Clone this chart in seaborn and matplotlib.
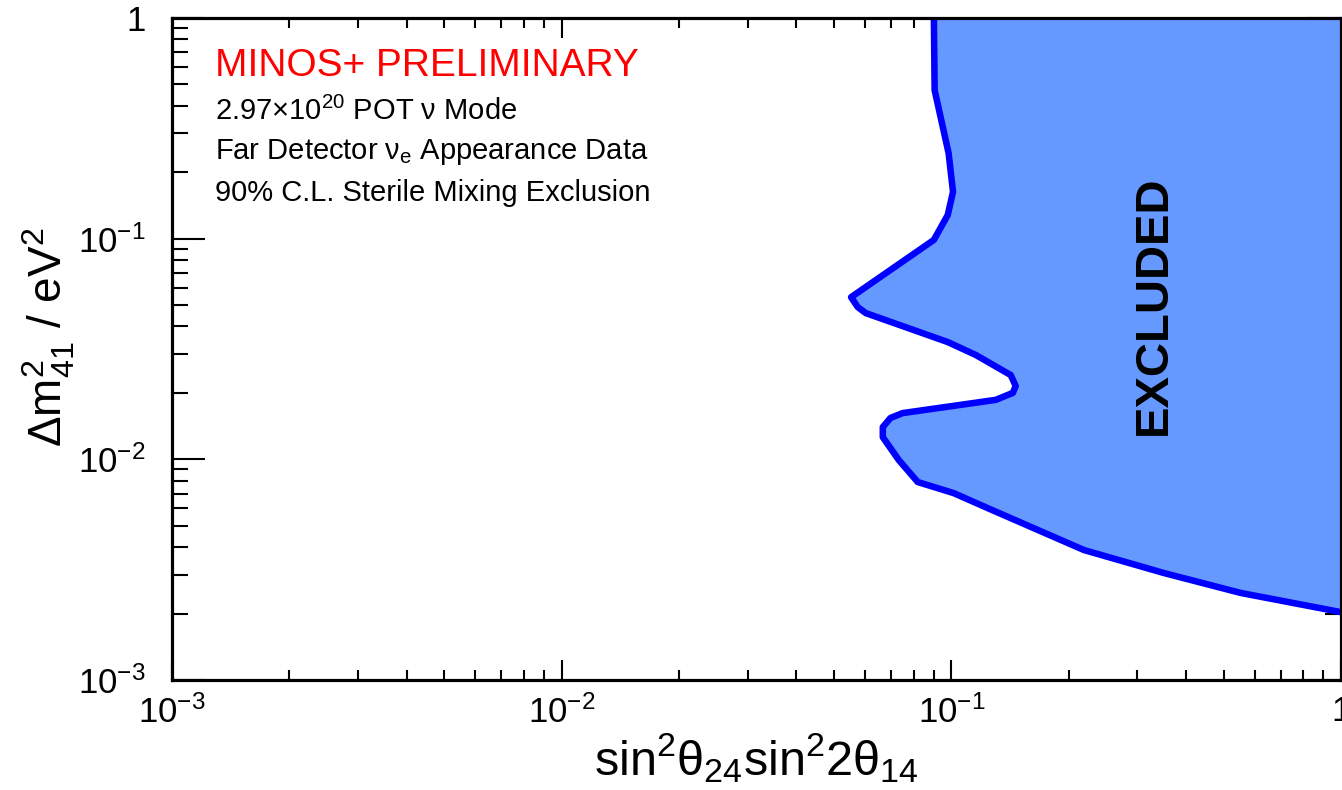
import numpy as np
import pandas as pd
import matplotlib
matplotlib.use("Agg")
import matplotlib.pyplot as plt
from matplotlib.ticker import FixedLocator, FixedFormatter, LogLocator, NullFormatter
import seaborn as sns

# 90% C.L. exclusion contour: sin^2(theta24) sin^2(2 theta14) vs Delta m^2_41 [eV^2]
sin2_mix = [0.0902, 0.0906, 0.0984, 0.101, 0.0979, 0.0902, 0.0553, 0.0575, 0.0603,
            0.0979, 0.1156, 0.142, 0.1463, 0.1438, 0.130, 0.0750, 0.0698, 0.0667,
            0.0667, 0.0733, 0.0820, 0.1014, 0.124, 0.219, 0.352, 0.553, 1.0]
dm2_41 = [1.0, 0.471, 0.244, 0.163, 0.128, 0.0987, 0.0543, 0.0490, 0.0460,
          0.0340, 0.0297, 0.0241, 0.0215, 0.0200, 0.0186, 0.0162, 0.0154, 0.0140,
          0.0126, 0.00993, 0.00789, 0.00703, 0.00601, 0.00388, 0.00305, 0.00248, 0.00203]

x_range = [1e-3, 1.0]
y_range = [1e-3, 1.0]
decade_ticks = [1e-3, 1e-2, 1e-1, 1.0]
decade_labels = [r"$10^{-3}$", r"$10^{-2}$", r"$10^{-1}$", r"$1$"]

info_lines = [
    r"$2.97{\times}10^{20}$ POT $\nu$ Mode",
    r"Far Detector $\nu_{\mathrm{e}}$ Appearance Data",
    r"90% C.L. Sterile Mixing Exclusion",
]

sns.set_theme(style="ticks")
plt.rcParams["font.family"] = ["Liberation Sans", "DejaVu Sans"]
plt.rcParams["mathtext.fontset"] = "custom"
plt.rcParams["mathtext.rm"] = "Liberation Sans"
plt.rcParams["mathtext.it"] = "Liberation Sans"
plt.rcParams["mathtext.bf"] = "Liberation Sans:bold"
plt.rcParams["mathtext.sf"] = "Liberation Sans"
plt.rcParams["text.color"] = "black"
plt.rcParams["axes.labelcolor"] = "black"

W, H = 1342, 790
fig = plt.figure(figsize=(W / 100, H / 100), dpi=100, facecolor="white")
ax = fig.add_axes([172 / W, 1 - 680 / H, (1341 - 172) / W, (680 - 18) / H])
ax.set_facecolor("white")
ax.set_xscale("log")
ax.set_yscale("log")

df = pd.DataFrame({"sin2": sin2_mix, "dm2": dm2_41})

# excluded region: everything to the right of the contour
ax.fill(np.r_[sin2_mix, x_range[1]], np.r_[dm2_41, y_range[1]],
        color="#6699ff", lw=0, zorder=1)
sns.lineplot(data=df, x="sin2", y="dm2", sort=False, estimator=None,
             color="#0000ff", lw=4.7, ax=ax, zorder=2)

ax.set_xlim(*x_range)
ax.set_ylim(*y_range)

for axis in (ax.xaxis, ax.yaxis):
    axis.set_major_locator(FixedLocator(decade_ticks))
    axis.set_major_formatter(FixedFormatter(decade_labels))
    axis.set_minor_locator(LogLocator(base=10, subs=np.arange(2, 10)))
    axis.set_minor_formatter(NullFormatter())

ax.tick_params(axis="x", which="major", direction="in", length=14.4, width=1.5,
               top=True, bottom=True, pad=11, labelsize=25, color="black",
               labelcolor="black")
ax.tick_params(axis="x", which="minor", direction="in", length=7, width=1.5,
               top=True, bottom=True, color="black")
ax.tick_params(axis="y", which="major", direction="in", length=23.8, width=1.5,
               left=True, right=True, pad=19, labelsize=25, color="black",
               labelcolor="black")
ax.tick_params(axis="y", which="minor", direction="in", length=11.5, width=1.5,
               left=True, right=True, color="black")
for s in ax.spines.values():
    s.set_linewidth(2.3)
    s.set_color("black")
    s.set_zorder(5)
ax.grid(False)

ax.set_xlabel(r"$\mathrm{sin}^{2}\theta_{24}\mathrm{sin}^{2}2\theta_{14}$", fontsize=35)
ax.xaxis.set_label_coords(0.5, -0.077)
ax.set_ylabel(r"$\Delta\mathrm{m}^{2}_{41}$ / eV$^{2}$", fontsize=33)
ax.yaxis.set_label_coords(-0.081, 0.517)

ax.text(0.037, 0.927, "MINOS+ PRELIMINARY", transform=ax.transAxes,
        color="#ff0000", fontsize=28, va="center", ha="left")
for i, line in enumerate(info_lines):
    ax.text(0.037, 0.859 - i * 0.062, line, transform=ax.transAxes,
            color="black", fontsize=21, va="center", ha="left")

ax.text(0.840, 0.566, "EXCLUDED", transform=ax.transAxes, rotation=90,
        fontsize=34, fontweight="bold", color="black", ha="center", va="center")

fig.savefig("out.png", dpi=100, facecolor="white")
